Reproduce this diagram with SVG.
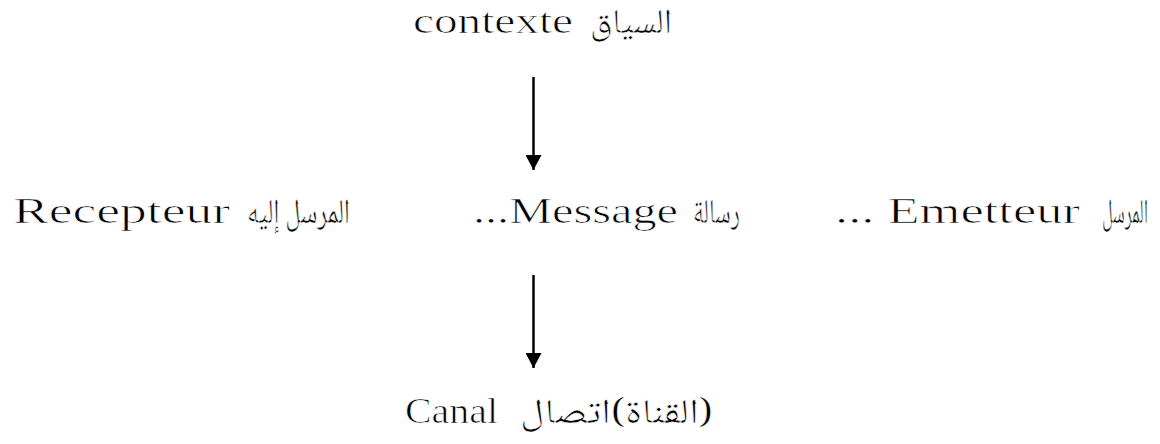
<svg xmlns="http://www.w3.org/2000/svg" width="1160" height="444" viewBox="0 0 1160 444">
<style>
.t{font-family:"Liberation Serif","DejaVu Serif",serif;font-size:35px;fill:#000;stroke:#fff;stroke-width:0.7}
.a{font-family:"Noto Naskh Arabic","Amiri","DejaVu Sans",sans-serif;font-size:35px;fill:#000;stroke:#fff;stroke-width:0.6;text-anchor:end}
.c{stroke:#000;stroke-width:2.5;fill:none}
</style>
<defs>
<marker id="ah" markerUnits="userSpaceOnUse" markerWidth="16" markerHeight="16" viewBox="0 0 16 16" refX="15" refY="8" orient="auto">
<path d="M0,0 L15,8 L0,16 Z" fill="#000"/>
</marker>
</defs>
<rect width="1160" height="444" fill="#fff"/>
<g id="contexte">
<text class="t" x="413" y="33" textLength="160" lengthAdjust="spacingAndGlyphs">contexte</text>
<text class="a" x="672" y="33" textLength="82" lengthAdjust="spacingAndGlyphs">السياق</text>
</g>
<g id="recepteur">
<text class="t" x="13" y="223" textLength="217" lengthAdjust="spacingAndGlyphs">Recepteur</text>
<text class="a" x="350" y="223" textLength="103" lengthAdjust="spacingAndGlyphs">المرسل إليه</text>
</g>
<g id="message">
<text class="t" x="473" y="223" textLength="205" lengthAdjust="spacingAndGlyphs">...Message</text>
<text class="a" x="740" y="223" textLength="47" lengthAdjust="spacingAndGlyphs">رسالة</text>
</g>
<g id="emetteur">
<text class="t" x="835" y="223" textLength="245" lengthAdjust="spacingAndGlyphs">... Emetteur</text>
<text class="a" x="1148" y="223" textLength="46" lengthAdjust="spacingAndGlyphs">المرسل</text>
</g>
<g id="canal">
<text class="t" x="405" y="423" textLength="93" lengthAdjust="spacingAndGlyphs">Canal</text>
<text class="a" x="713" y="423" textLength="193" lengthAdjust="spacingAndGlyphs">&#x2067;(القناة)اتصال&#x2069;</text>
</g>
<g id="connectors">
<line class="c" x1="533.5" y1="77" x2="533.5" y2="170" marker-end="url(#ah)"/>
<line class="c" x1="533.5" y1="275" x2="533.5" y2="368" marker-end="url(#ah)"/>
</g>
</svg>
